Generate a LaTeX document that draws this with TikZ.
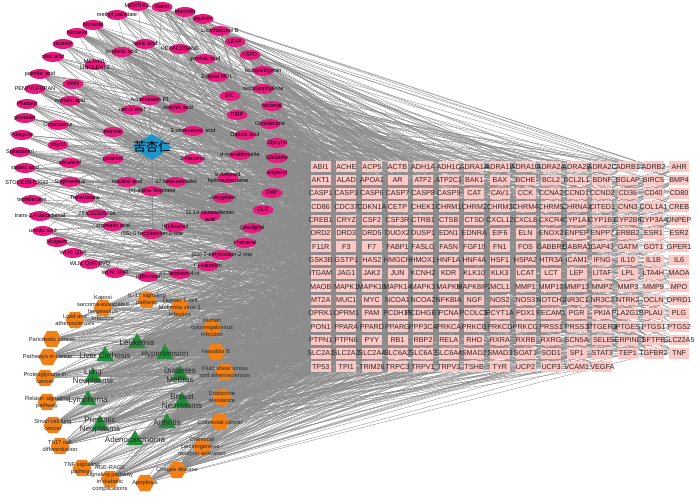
\documentclass[tikz,border=0pt]{standalone}
\usepackage{fontspec}
\setmainfont{Liberation Sans}
\newfontfamily\cjkf{Noto Sans CJK SC}
\usetikzlibrary{shapes.geometric,backgrounds}
\definecolor{cpink}{RGB}{232,24,124}
\definecolor{tpink}{RGB}{255,200,196}
\definecolor{dblue}{RGB}{32,150,200}
\definecolor{dgreen}{RGB}{36,140,60}
\definecolor{porange}{RGB}{242,128,20}
\definecolor{edgegray}{RGB}{140,140,140}
\newcommand\cpd[4]{\node[cmp] (#1) at (#2,#3) {};\node[clab] at (#1) {#4};}
\newcommand\dis[4]{\node[disnode] (#1) at (#2,#3) {};\node[dlab] at (#1) {#4};}
\newcommand\pth[4]{\node[pthnode] (#1) at (#2,#3) {};\node[plab] at (#1) {#4};}
\begin{document}
\begin{tikzpicture}[x=1pt,y=-1pt,
 cmp/.style={ellipse,fill=cpink,draw=none,minimum width=21pt,minimum height=10pt,inner sep=0pt},
 clab/.style={font=\fontsize{5.5}{6.2}\selectfont,text=black,align=center,inner sep=0pt},
 tgt/.style={rectangle,fill=tpink,minimum width=20pt,minimum height=10.5pt,inner sep=0pt,font=\fontsize{7.2}{8}\selectfont,text=black!85},
 disnode/.style={regular polygon,regular polygon sides=3,fill=dgreen,minimum size=20pt,inner sep=0pt},
 dlab/.style={font=\fontsize{8}{9}\selectfont,align=center,inner sep=0pt,text=black!85},
 pthnode/.style={regular polygon,regular polygon sides=6,fill=porange,minimum size=19pt,inner sep=0pt},
 plab/.style={font=\fontsize{5.8}{7}\selectfont,align=center,inner sep=0pt,text=black!85},
 drug/.style={diamond,fill=dblue,minimum width=40pt,minimum height=27pt,inner sep=0pt},
 edge/.style={draw=edgegray,line width=0.35pt}]
\useasboundingbox (0,0) rectangle (699,497);
% targets grid
\foreach \n [count=\i from 0] in {ABI1,ACHE,ACP5,ACTB,ADH1A,ADH1C,ADRA1A,ADRA1B,ADRA1D,ADRA2A,ADRA2B,ADRA2C,ADRB1,ADRB2,AHR,
AKT1,ALAD,APOA1,AR,ATF2,ATP2C1,BAK1,BAX,BCHE,BCL2,BCL2L1,BDNF,BGLAP,BIRC5,BMP4,
CASP1,CASP3,CASP6,CASP7,CASP8,CASP9,CAT,CAV1,CCK,CCNA2,CCND1,CCND2,CD36,CD40,CD80,
CD86,CDC37,CDKN1A,CETP,CHEK1,CHRM1,CHRM2,CHRM3,CHRM4,CHRM5,CHRNA2,CITED1,CNN3,COL1A1,CREB,
CREB1,CRYZ,CSF2,CSF3R,CTRB1,CTSB,CTSD,CXCL12,CXCL8,CXCR4,CYP1A1,CYP1B1,CYP2B6,CYP3A4,DNPEP,
DRD2,DRD3,DRD5,DUOX2,DUSP1,EDN1,EDNRA,EIF6,ELN,ENOX2,ENPEP,ENPP7,ERBB2,ESR1,ESR2,
F11R,F3,F7,FABP1,FASLG,FASN,FGF10,FN1,FOS,GABBR1,GABRA1,GAP43,GATM,GOT1,GPER1,
GSK3B,GSTP1,HAS2,HMGCR,HMOX1,HNF1A,HNF4A,HSF1,HSPA2,HTR3A,ICAM1,IFNG,IL10,IL1B,IL6,
ITGAM,JAG1,JAK2,JUN,KCNH2,KDR,KLK10,KLK3,LCAT,LCT,LEP,LITAF,LPL,LTA4H,MAOA,
MAOB,MAPK1,MAPK10,MAPK14,MAPK3,MAPK8,MAPK8IP2,MCL1,MMP1,MMP10,MMP13,MMP2,MMP3,MMP9,MPO,
MT2A,MUC1,MYC,NCOA1,NCOA2,NFKBIA,NGF,NOS2,NOS3,NOTCH1,NR3C1,NR3C2,NTRK2,OCLN,OPRD1,
OPRK1,OPRM1,PAM,PCDH15,PCDHGB7,PCNA,PCOLCE,PCYT1A,PDX1,PECAM1,PGR,PKIA,PLA2G1B,PLAU,PLG,
PON1,PPARA,PPARD,PPARG,PPP3CA,PRKCA,PRKCB,PRKCD,PRKCG,PRSS1,PRSS3,PTGER3,PTGES,PTGS1,PTGS2,
PTPN1,PTPN6,PYY,RB1,RBP2,RELA,RHO,RXRA,RXRB,RXRG,SCN5A,SELE,SERPINE1,SFTPB,SLC22A5,
SLC2A1,SLC2A2,SLC2A4,SLC6A2,SLC6A3,SLC6A4,SMAD2,SMAD3,SOAT1,SOD1,SP1,STAT3,TEP1,TGFBR2,TNF,
TP53,TPI1,TRIM26,TRPC3,TRPV1,TRPV3,TSHB,TYR,UCP2,UCP3,VCAM1,VEGFA}{
 \pgfmathsetmacro\gx{320.7+25.6*mod(\i,15)}
 \pgfmathsetmacro\gy{166.7+13.33*div(\i,15)}
 \node[tgt] (t\i) at (\gx,\gy) {\makebox[0pt]{\n}};
}
% drug
\node[drug] (drug) at (152,147) {};
\node[font=\cjkf\fontsize{12.5}{13}\selectfont,inner sep=0pt] at (drug) {苦杏仁};
% compounds
\cpd{c1}{138}{6}{MENTHOL}
\cpd{c2}{162}{7}{Mairin}
\cpd{c3}{185}{12}{Machilin}
\cpd{c4}{203}{19}{liquiritin}
\cpd{c5}{117}{15}{methyl palmitate}
\cpd{c6}{220}{31}{Licochalcone B}
\cpd{c7}{93}{25}{Nonanal}
\cpd{c8}{77}{33}{Nonanol}
\cpd{c9}{235}{42}{LEVA}
\cpd{c10}{63}{44}{octanol}
\cpd{c11}{145}{44}{lauric acid}
\cpd{c12}{180}{49}{HEXACOSANE}
\cpd{c13}{122}{52}{linolenic acid}
\cpd{c14}{250}{55}{l-SPD}
\cpd{c15}{53}{57}{oleic acid}
\cpd{c16}{205}{59}{gondoic acid}
\cpd{c17}{95}{65}{METHYL\\LINOLEATE}
\cpd{c18}{263}{71}{Isoliquiritigenin}
\cpd{c19}{40}{74}{palmitic acid}
\cpd{c20}{217}{77}{Ecliptal MOL}
\cpd{c21}{73}{84}{MNN}
\cpd{c22}{35}{89}{PENTYLFURAN}
\cpd{c23}{263}{89}{Isocaryophyllene}
\cpd{c24}{230}{96}{EIC}
\cpd{c25}{150}{100}{Actanostatin P1}
\cpd{c26}{70}{101}{myristic acid}
\cpd{c27}{27}{104}{Phaseol}
\cpd{c28}{272}{106}{hexanal}
\cpd{c29}{178}{108}{Arachic acid}
\cpd{c30}{132}{110}{dec-2-enol}
\cpd{c31}{237}{115}{DIBP}
\cpd{c32}{25}{118}{prunasin}
\cpd{c33}{58}{125}{Octacosane}
\cpd{c34}{270}{124}{Octadecane}
\cpd{c35}{193}{131}{3-undecenoic acid}
\cpd{c36}{113}{132}{estrone}
\cpd{c37}{22}{135}{Pulegone}
\cpd{c38}{245}{135}{Daturic acid}
\cpd{c39}{277}{143}{Glycyrol}
\cpd{c40}{58}{145}{phytol}
\cpd{c41}{20}{152}{Spinasterol}
\cpd{c42}{240}{155}{d-mandelonitrile}
\cpd{c43}{193}{159}{2-Hexenol}
\cpd{c44}{113}{159}{geraniol}
\cpd{c45}{277}{158}{Glabridin}
\cpd{c46}{70}{163}{sitosterol}
\cpd{c47}{25}{168}{stearic acid}
\cpd{c48}{277}{173}{eugenol}
\cpd{c49}{228}{178}{b-Amyned\\hydroxybenzene}
\cpd{c50}{27}{183}{STOCK1N-53032}
\cpd{c51}{70}{182}{Stigmasterol}
\cpd{c52}{127}{182}{Isooleic acid}
\cpd{c53}{176}{182}{17 beta-estradiol}
\cpd{c54}{152}{191}{(+)-alpha-Terpineol}
\cpd{c55}{272}{193}{DBP}
\cpd{c56}{223}{198}{Amygdalin}
\cpd{c57}{85}{198}{Tetracosane}
\cpd{c58}{32}{200}{tetradecane}
\cpd{c59}{263}{210}{CLR}
\cpd{c60}{97}{214}{ZINC02109706}
\cpd{c61}{40}{216}{trans-2,4-decadienal}
\cpd{c62}{210}{216}{11,14-eicosadienoic\\acid}
\cpd{c63}{113}{226}{zoomaric acid}
\cpd{c64}{175}{227}{(R)-linalool}
\cpd{c65}{252}{228}{Cerulignol}
\cpd{c66}{43}{231}{ursolic acid}
\cpd{c67}{152}{234}{(5S)-5-hexyloxolan-2-one}
\cpd{c68}{57}{242}{Vulgarin}
\cpd{c69}{245}{243}{t-hexanal}
\cpd{c70}{73}{253}{WLN: Q1R}
\cpd{c71}{222}{255}{(5S)-5-ethyloxolan-2-one}
\cpd{c72}{90}{264}{WLN: QVR BVQ}
\cpd{c73}{208}{266}{(-)-catechin}
\cpd{c74}{115}{273}{WLN: VHR}
\cpd{c75}{180}{274}{(-)-Terpinen-4-ol}
\cpd{c76}{148}{277}{(-)Borneol}
% diseases
\dis{d1}{137}{343}{Leukemia}
\dis{d2}{105}{356}{Liver Cirrhosis}
\dis{d3}{165}{354}{Hypertension}
\dis{d4}{93}{377}{Lung\\Neoplasms}
\dis{d5}{180}{375}{Diabetes\\Mellitus}
\dis{d6}{88}{400}{Lymphoma}
\dis{d7}{182}{402}{Breast\\Neoplasms}
\dis{d8}{100}{425}{Prostatic\\Neoplasms}
\dis{d9}{167}{423}{Arthritis}
\dis{d10}{135}{440}{Adenocarcinoma}
% pathways
\pth{p1}{103}{308}{Kaposi\\sarcoma-associated\\herpesvirus\\infection}
\pth{p2}{147}{300}{IL-17 signaling\\pathway}
\pth{p3}{180}{307}{Human T-cell\\leukemia virus 1\\infection}
\pth{p4}{75}{320}{Lipid and\\atherosclerosis}
\pth{p5}{212}{328}{Human\\cytomegalovirus\\infection}
\pth{p6}{52}{339}{Pancreatic cancer}
\pth{p7}{48}{357}{Pathways in cancer}
\pth{p8}{216}{352}{Hepatitis B}
\pth{p9}{225}{372}{Fluid shear stress\\and atherosclerosis}
\pth{p10}{45}{378}{Proteoglycans in\\cancer}
\pth{p11}{222}{397}{Endocrine\\resistance}
\pth{p12}{47}{402}{Relaxin signaling\\pathway}
\pth{p13}{220}{422}{Colorectal cancer}
\pth{p14}{53}{425}{Small cell lung\\cancer}
\pth{p15}{60}{446}{Th17 cell\\differentiation}
\pth{p16}{202}{447}{Chemical\\carcinogenesis -\\receptor activation}
\pth{p17}{82}{468}{TNF signaling\\pathway}
\pth{p18}{177}{470}{Chagas disease}
\pth{p19}{110}{479}{AGE-RAGE\\signaling pathway\\in diabetic\\complications}
\pth{p20}{145}{483}{Apoptosis}
% edges
\begin{scope}[on background layer]
\fill[white] (0,0) rectangle (699,497);
\pgfmathsetseed{2024}
\foreach \i in {1,...,76}{\draw[edge] (drug) -- (c\i);}
\foreach \i in {1,...,76}{
  \pgfmathrandominteger{\kk}{8}{24}
  \foreach \j in {1,...,\kk}{
    \pgfmathrandominteger{\tg}{0}{236}
    \draw[edge] (c\i) -- (t\tg);
  }
}
\foreach \i in {1,...,10}{
  \pgfmathrandominteger{\kk}{35}{60}
  \foreach \j in {1,...,\kk}{
    \pgfmathrandominteger{\tg}{0}{236}
    \draw[edge] (d\i) -- (t\tg);
  }
}
\foreach \i in {1,...,20}{
  \pgfmathrandominteger{\kk}{15}{35}
  \foreach \j in {1,...,\kk}{
    \pgfmathrandominteger{\tg}{0}{236}
    \draw[edge] (p\i) -- (t\tg);
  }
}
\end{scope}
\end{tikzpicture}
\end{document}
